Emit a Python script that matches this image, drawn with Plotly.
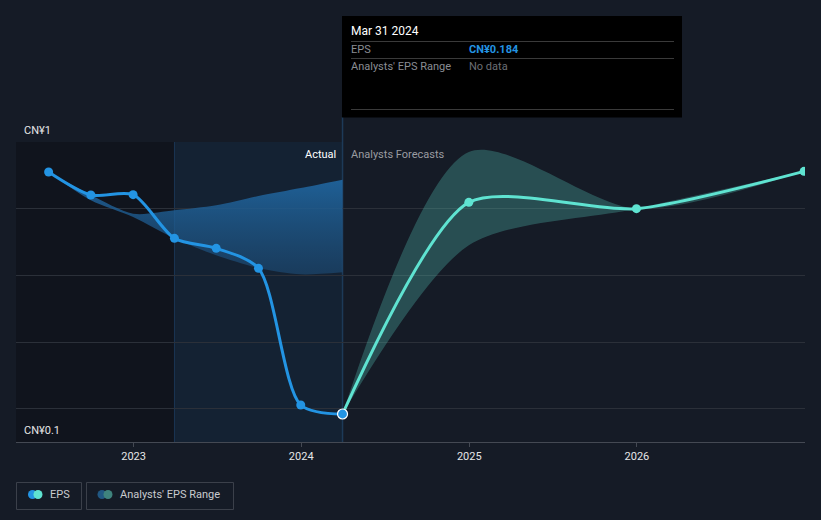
import plotly.graph_objects as go

# ---------------- data ----------------
eps_dates = ["2022-06-30", "2022-09-30", "2022-12-31", "2023-03-31",
             "2023-06-30", "2023-09-30", "2023-12-31", "2024-03-31"]
eps_values = [0.91, 0.841, 0.842, 0.711, 0.681, 0.621, 0.211, 0.184]

hist_range_low = [0.91, 0.825, 0.775, 0.711, 0.66, 0.622, 0.603, 0.609]
hist_range_high = [0.91, 0.841, 0.785, 0.795, 0.81, 0.838, 0.862, 0.887]

fc_dates = ["2024-03-31", "2024-12-31", "2025-12-31", "2026-12-31"]
fc_values = [0.184, 0.819, 0.80, 0.912]
fc_low = [0.184, 0.69, 0.80, 0.912]
fc_high = [0.184, 0.97, 0.80, 0.912]

x_ticks = ["2023-01-01", "2024-01-01", "2025-01-01", "2026-01-01"]
x_tick_labels = ["2023", "2024", "2025", "2026"]
y_labels = ["CN¥1", "CN¥0.1"]

tooltip_date = "Mar 31 2024"
tooltip_eps = "CN¥0.184"

# ---------------- styling ----------------
BG = "#151b26"
BLUE = "#2394e3"
TEAL = "#5fe3d1"
FONT = "Roboto"
W, H = 821, 520
L, R, T, B = 16, 805, 142, 442   # plot area in px


def px(xpx):
    return (xpx - L) / (R - L)


def py(ypx):
    return (B - ypx) / (B - T)


fig = go.Figure()

# historical analyst range
fig.add_trace(go.Scatter(x=eps_dates, y=hist_range_low, mode="lines",
                         line=dict(width=0, shape="spline", smoothing=0.8),
                         hoverinfo="skip", showlegend=False))
fig.add_trace(go.Scatter(x=eps_dates, y=hist_range_high, mode="lines",
                         line=dict(width=0, shape="spline", smoothing=0.8),
                         fill="tonexty",
                         fillgradient=dict(type="vertical", start=0.6, stop=0.9,
                                           colorscale=[[0, "rgba(30,80,125,0.55)"],
                                                       [1, "rgba(32,105,165,0.9)"]]),
                         hoverinfo="skip", showlegend=False))

# forecast range
fig.add_trace(go.Scatter(x=fc_dates, y=fc_low, mode="lines",
                         line=dict(width=0, shape="spline", smoothing=0.8),
                         hoverinfo="skip", showlegend=False))
fig.add_trace(go.Scatter(x=fc_dates, y=fc_high, mode="lines",
                         line=dict(width=0, shape="spline", smoothing=0.8),
                         fill="tonexty", fillcolor="rgba(85,200,185,0.30)",
                         hoverinfo="skip", showlegend=False))

# forecast line
fig.add_trace(go.Scatter(x=fc_dates, y=fc_values, mode="lines+markers",
                         line=dict(color=TEAL, width=3, shape="spline", smoothing=0.7),
                         marker=dict(color=TEAL, size=9),
                         hoverinfo="skip", showlegend=False))

# EPS line
fig.add_trace(go.Scatter(x=eps_dates, y=eps_values, mode="lines+markers",
                         line=dict(color=BLUE, width=3, shape="spline", smoothing=0.8),
                         marker=dict(color=BLUE, size=9),
                         hoverinfo="skip", showlegend=False))

# highlighted point
fig.add_trace(go.Scatter(x=[eps_dates[-1]], y=[eps_values[-1]], mode="markers",
                         marker=dict(color=BLUE, size=10, line=dict(color="white", width=1.2)),
                         hoverinfo="skip", showlegend=False))

shapes = []
annotations = []

# darker past region
shapes.append(dict(type="rect", xref="x", yref="paper", x0="2022-04-20", x1="2023-03-31",
                   y0=0, y1=1, fillcolor="rgba(10,10,15,0.35)", line=dict(width=0), layer="below"))
# highlighted last-year region
shapes.append(dict(type="rect", xref="x", yref="paper", x0="2023-03-31", x1=eps_dates[-1],
                   y0=0, y1=1, fillcolor="rgba(20,40,62,0.55)", line=dict(width=0), layer="below"))
# left border of highlight region
shapes.append(dict(type="line", xref="x", yref="paper", x0="2023-03-31", x1="2023-03-31",
                   y0=0, y1=1, line=dict(color="rgba(35,80,125,0.5)", width=1), layer="below"))
# vertical hover line
shapes.append(dict(type="line", xref="x", yref="paper", x0=eps_dates[-1], x1=eps_dates[-1],
                   y0=0, y1=py(117), line=dict(color="#1d3a58", width=1.5), layer="below"))

# tooltip box
shapes.append(dict(type="rect", xref="paper", yref="paper", x0=px(342), x1=px(682),
                   y0=py(117.5), y1=py(16), fillcolor="#000000", line=dict(width=0)))
for yy in (41.5, 58.5, 109.5):
    shapes.append(dict(type="line", xref="paper", yref="paper", x0=px(351), x1=px(674),
                       y0=py(yy), y1=py(yy), line=dict(color="#3a3a3a", width=1)))
annotations += [
    dict(x=px(349), y=py(31), text=tooltip_date, showarrow=False, xanchor="left", yanchor="middle",
         font=dict(family=FONT, size=12, color="#ffffff"), xref="paper", yref="paper"),
    dict(x=px(349), y=py(49.5), text="EPS", showarrow=False, xanchor="left", yanchor="middle",
         font=dict(family=FONT, size=11, color="#8a8d93"), xref="paper", yref="paper"),
    dict(x=px(467), y=py(49.5), text="<b>" + tooltip_eps + "</b>", showarrow=False, xanchor="left",
         yanchor="middle", font=dict(family=FONT, size=11, color=BLUE), xref="paper", yref="paper"),
    dict(x=px(349), y=py(66.5), text="Analysts' EPS Range", showarrow=False, xanchor="left",
         yanchor="middle", font=dict(family=FONT, size=11, color="#8a8d93"), xref="paper", yref="paper"),
    dict(x=px(467), y=py(66.5), text="No data", showarrow=False, xanchor="left", yanchor="middle",
         font=dict(family=FONT, size=11, color="#6c6f75"), xref="paper", yref="paper"),
]

# Actual / Analysts Forecasts labels
annotations += [
    dict(x=eps_dates[-1], y=py(154), xref="x", yref="paper", text="Actual", showarrow=False,
         xanchor="right", yanchor="middle", xshift=-5,
         font=dict(family=FONT, size=11, color="#ffffff")),
    dict(x=eps_dates[-1], y=py(154), xref="x", yref="paper", text="Analysts Forecasts",
         showarrow=False, xanchor="left", yanchor="middle", xshift=6,
         font=dict(family=FONT, size=11, color="#9a9ca1")),
]

# y labels
annotations += [
    dict(x=px(22), y=py(130), xref="paper", yref="paper", text=y_labels[0], showarrow=False,
         xanchor="left", yanchor="middle", font=dict(family=FONT, size=11, color="#e6e6e6")),
    dict(x=px(22), y=py(430), xref="paper", yref="paper", text=y_labels[1], showarrow=False,
         xanchor="left", yanchor="middle", font=dict(family=FONT, size=11, color="#e6e6e6")),
]

# legend
shapes.append(dict(type="rect", xref="paper", yref="paper", x0=px(16.5), x1=px(81.5),
                   y0=py(509.5), y1=py(482.5), line=dict(color="#3b404a", width=1)))
shapes.append(dict(type="rect", xref="paper", yref="paper", x0=px(86.5), x1=px(233.5),
                   y0=py(509.5), y1=py(482.5), line=dict(color="#3b404a", width=1)))


def dot(cx, cy, r, color):
    return dict(type="circle", xref="paper", yref="paper",
                x0=px(cx - r), x1=px(cx + r), y0=py(cy + r), y1=py(cy - r),
                fillcolor=color, line=dict(width=0))


shapes += [dot(32.5, 494.5, 4.5, BLUE), dot(38, 494.5, 4.5, TEAL),
           dot(102, 494.5, 4.5, "#215883"), dot(108, 494.5, 4.5, "#3f837d")]
annotations += [
    dict(x=px(48), y=py(494.5), xref="paper", yref="paper", text="EPS", showarrow=False,
         xanchor="left", yanchor="middle", font=dict(family=FONT, size=11, color="#c9cbcf")),
    dict(x=px(118), y=py(494.5), xref="paper", yref="paper", text="Analysts' EPS Range",
         showarrow=False, xanchor="left", yanchor="middle",
         font=dict(family=FONT, size=11, color="#c9cbcf")),
]

fig.update_layout(
    width=W, height=H,
    margin=dict(l=L, r=W - R, t=T, b=H - B),
    paper_bgcolor=BG, plot_bgcolor=BG,
    showlegend=False,
    shapes=shapes, annotations=annotations,
    xaxis=dict(type="date", range=["2022-04-20", "2027-01-02"],
               tickvals=x_ticks, ticktext=x_tick_labels,
               showgrid=False, zeroline=False,
               showline=True, linecolor="#444953", linewidth=1,
               ticks="outside", ticklen=4, tickcolor="#444953",
               tickfont=dict(family=FONT, size=11, color="#e6e6e6")),
    yaxis=dict(range=[0.1, 1.0], tickvals=[0.2, 0.4, 0.6, 0.8, 1.0],
               showticklabels=False, showgrid=True, gridcolor="#2b3039", gridwidth=1,
               zeroline=False, showline=False),
    hovermode=False,
)

fig.write_html("out.html")
